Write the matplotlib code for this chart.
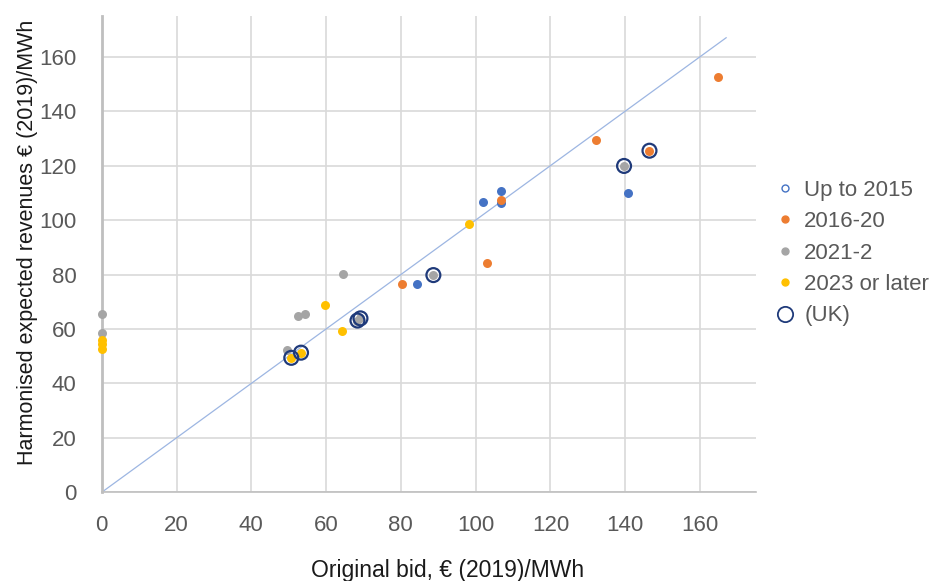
import matplotlib.pyplot as plt
from matplotlib.lines import Line2D

# --- data (original bid, harmonised revenue) ---
up_to_2015_x = [84.3, 102.1, 106.8, 106.8, 140.8]
up_to_2015_y = [76.5, 106.7, 110.8, 106.4, 110.1]

y2016_20_x = [80.4, 103.0, 106.9, 132.3, 146.5, 164.9]
y2016_20_y = [76.5, 84.3, 107.5, 129.4, 125.5, 152.6]

y2021_2_x = [0, 0, 49.5, 52.6, 54.4, 64.4, 68.4, 69.2, 88.7, 139.7]
y2021_2_y = [65.5, 58.5, 52.2, 64.6, 65.6, 80.1, 63.1, 63.9, 79.8, 119.9]

y2023_x = [0, 0, 0, 50.7, 53.3, 59.8, 64.3, 98.2]
y2023_y = [56.0, 54.3, 52.8, 49.4, 51.3, 68.7, 59.2, 98.4]

uk_x = [50.7, 53.3, 68.4, 69.2, 88.7, 139.7, 146.5]
uk_y = [49.4, 51.3, 63.1, 63.9, 79.8, 119.9, 125.5]

diag = [0, 167]

BLUE, ORANGE, GREY, YELLOW, NAVY = "#4472C4", "#ED7D31", "#A5A5A5", "#FFC000", "#1F3A7A"
TXT = "#595959"

plt.rcParams["font.family"] = ["Liberation Sans", "DejaVu Sans"]

fig = plt.figure(figsize=(9.35, 5.81), dpi=100)
ax = fig.add_axes([0.1088, 0.1527, 0.6998, 0.8198])

ax.plot(diag, diag, color="#9DB6E2", lw=0.9, zorder=2)

dot = dict(s=42, linewidths=0, zorder=3, clip_on=False)
ax.scatter(up_to_2015_x, up_to_2015_y, color=BLUE, **dot)
ax.scatter(y2016_20_x, y2016_20_y, color=ORANGE, **dot)
ax.scatter(y2021_2_x, y2021_2_y, color=GREY, **dot)
ax.scatter(y2023_x, y2023_y, color=YELLOW, **dot)
ax.scatter(uk_x, uk_y, s=100, facecolors="none", edgecolors=NAVY, linewidths=1.6, zorder=4)

ax.set_xlim(0, 175)
ax.set_ylim(0, 175)
ticks = list(range(0, 161, 20))
ax.set_xticks(ticks)
ax.set_yticks(ticks)
ax.grid(True, color="#D9D9D9", lw=1.2)
ax.set_axisbelow(True)
ax.tick_params(length=0, labelsize=16, labelcolor=TXT)
ax.tick_params(axis="x", pad=16)
ax.tick_params(axis="y", pad=18)
for s in ["top", "right"]:
    ax.spines[s].set_visible(False)
ax.spines["left"].set_color("#BFBFBF")
ax.spines["left"].set_linewidth(2)
ax.spines["bottom"].set_color("#BFBFBF")
ax.spines["bottom"].set_linewidth(1.2)

ax.set_xlabel("Original bid, € (2019)/MWh", fontsize=16.5, color="#1a1a1a", labelpad=17)
ax.set_ylabel("Harmonised expected revenues € (2019)/MWh", fontsize=15.5, color="#1a1a1a", labelpad=1)
ax.xaxis.label.set_x(0.528)
ax.yaxis.label.set_y(0.524)

handles = [
    Line2D([], [], ls="", marker="o", ms=5, mfc="white", mec=BLUE, mew=1),
    Line2D([], [], ls="", marker="o", ms=5, mfc=ORANGE, mec=ORANGE),
    Line2D([], [], ls="", marker="o", ms=5, mfc=GREY, mec=GREY),
    Line2D([], [], ls="", marker="o", ms=5, mfc=YELLOW, mec=YELLOW),
    Line2D([], [], ls="", marker="o", ms=11, mfc="none", mec=NAVY, mew=1.3),
]
labels = ["Up to 2015", "2016-20", "2021-2", "2023 or later", "(UK)"]
leg = fig.legend(handles, labels, loc="upper left", bbox_to_anchor=(0.821, 0.706),
                 frameon=False, fontsize=16, handlelength=0.8, handletextpad=0.45,
                 labelspacing=0.47, borderaxespad=0)
for t in leg.get_texts():
    t.set_color(TXT)

fig.savefig("out.png", dpi=100)
